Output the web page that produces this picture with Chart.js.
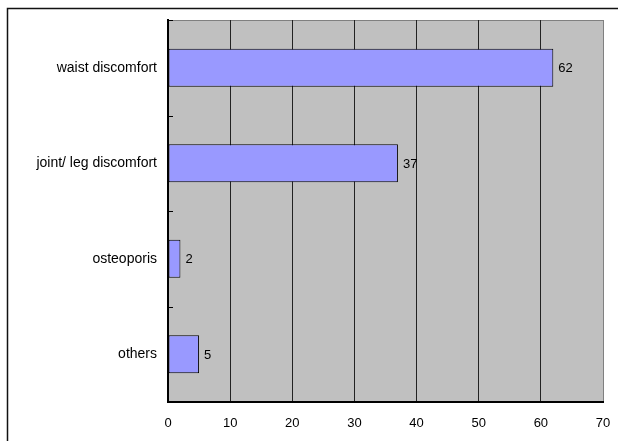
<!DOCTYPE html>
<html>
<head>
<meta charset="utf-8">
<script src="https://cdn.jsdelivr.net/npm/chart.js@4/dist/chart.umd.min.js"></script>
<style>
  html, body { margin: 0; padding: 0; background: #fff; }
  #wrap { position: relative; width: 618px; height: 441px; }
  canvas { position: absolute; left: 0; top: 0; }
</style>
</head>
<body>
<div id="wrap"><canvas id="c" width="618" height="441"></canvas></div>
<script>
// Reported complaints, one bar per category
const categories = ['waist discomfort', 'joint/ leg discomfort', 'osteoporis', 'others'];
const counts = [62, 37, 2, 5];
const axisMax = 70;
const axisStep = 10;

const FONT = '"Liberation Sans", Arial, sans-serif';

// Gray plot panel, frame around the page, and category tick marks
const framePlugin = {
  id: 'frame',
  beforeDraw(chart) {
    const { ctx, chartArea: a } = chart;
    ctx.save();
    ctx.fillStyle = '#C0C0C0';
    ctx.fillRect(a.left, a.top, a.right - a.left, a.bottom - a.top);
    // outer frame (left and top edges)
    ctx.strokeStyle = '#111';
    ctx.lineWidth = 1.5;
    ctx.beginPath();
    ctx.moveTo(7.5, chart.height);
    ctx.lineTo(7.5, 8.5);
    ctx.lineTo(chart.width, 8.5);
    ctx.stroke();
    // plot top edge
    ctx.strokeStyle = '#808080';
    ctx.lineWidth = 1;
    ctx.beginPath();
    ctx.moveTo(a.left, a.top + 0.5);
    ctx.lineTo(a.right, a.top + 0.5);
    ctx.stroke();
    ctx.restore();
  },
  afterDraw(chart) {
    const { ctx, chartArea: a } = chart;
    const y = chart.scales.y;
    ctx.save();
    ctx.strokeStyle = '#000';
    ctx.lineWidth = 1;
    for (let i = 0; i <= categories.length; i++) {
      const py = Math.round(y.getPixelForValue(i - 0.5)) + 0.5;
      ctx.beginPath();
      ctx.moveTo(a.left, py);
      ctx.lineTo(a.left + 5, py);
      ctx.stroke();
    }
    ctx.restore();
  }
};

// Value printed just past the end of each bar
const valueLabels = {
  id: 'valueLabels',
  afterDatasetsDraw(chart) {
    const { ctx } = chart;
    const meta = chart.getDatasetMeta(0);
    ctx.save();
    ctx.font = '13px ' + FONT;
    ctx.fillStyle = '#000';
    ctx.textAlign = 'left';
    ctx.textBaseline = 'middle';
    meta.data.forEach((bar, i) => {
      ctx.fillText(String(counts[i]), bar.x + 5, bar.y + 1);
    });
    ctx.restore();
  }
};

new Chart(document.getElementById('c'), {
  type: 'bar',
  data: {
    labels: categories,
    datasets: [{
      data: counts,
      backgroundColor: '#9999FF',
      borderColor: '#000',
      borderWidth: 1,
      borderSkipped: false,
      barPercentage: 0.4,
      categoryPercentage: 1
    }]
  },
  options: {
    indexAxis: 'y',
    responsive: false,
    animation: false,
    devicePixelRatio: 1,
    layout: { padding: { top: 20, right: 15, left: 0, bottom: 0 } },
    plugins: {
      legend: { display: false },
      tooltip: { enabled: false }
    },
    scales: {
      x: {
        min: 0,
        max: axisMax,
        afterFit(s) { s.height = 39; s.paddingLeft = 0; s.paddingRight = 0; },
        ticks: {
          stepSize: axisStep,
          padding: 14,
          color: '#000',
          font: { family: FONT, size: 13 }
        },
        grid: {
          drawTicks: false,
          color: (c) => (c.tick && c.tick.value === axisMax ? '#808080' : '#222'),
          lineWidth: 1
        },
        border: { display: true, color: '#000', width: 2 }
      },
      y: {
        afterFit(s) { s.width = 168; s.paddingTop = 0; s.paddingBottom = 0; },
        ticks: {
          padding: 11,
          color: '#000',
          font: { family: FONT, size: 14 }
        },
        grid: { display: false, drawTicks: false },
        border: { display: true, color: '#000', width: 2 }
      }
    }
  },
  plugins: [framePlugin, valueLabels]
});
</script>
</body>
</html>
